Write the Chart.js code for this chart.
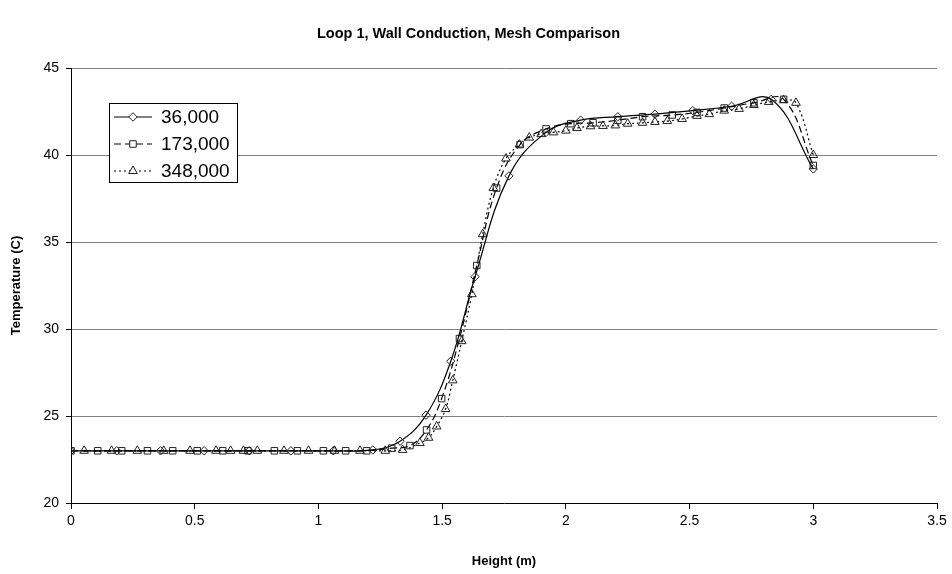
<!DOCTYPE html>
<html>
<head>
<meta charset="utf-8">
<script src="https://cdn.jsdelivr.net/npm/chart.js@4/dist/chart.umd.min.js"></script>
<style>
  html, body { margin: 0; padding: 0; background: #ffffff; }
  #c { display: block; }
</style>
</head>
<body>
<canvas id="c" width="952" height="574"></canvas>
<script>
// Mesh sizes (number of cells) shown in the legend
const meshLabels = ['36,000', '173,000', '348,000'];

// 36,000-cell mesh: height (m) and wall temperature (C)
const height36k = [0, 0.185, 0.362, 0.538, 0.72, 0.889, 1.06, 1.22, 1.33, 1.435, 1.535, 1.633, 1.77, 1.92, 2.06, 2.21, 2.36, 2.513, 2.67, 2.83, 3.0];
const temp36k   = [23, 23, 23, 23, 23, 23, 23, 23.05, 23.55, 25.05, 28.15, 33.0, 38.8, 41.3, 42.0, 42.2, 42.35, 42.55, 42.8, 43.2, 39.2];

// 173,000-cell mesh
const height173k = [0, 0.108, 0.205, 0.309, 0.411, 0.51, 0.613, 0.715, 0.822, 0.915, 1.02, 1.11, 1.195, 1.296, 1.37, 1.437, 1.498, 1.57, 1.64, 1.72, 1.815, 1.92, 2.02, 2.11, 2.21, 2.31, 2.43, 2.53, 2.64, 2.76, 2.88, 3.0];
const temp173k   = [23, 23, 23, 23, 23, 23, 23, 23, 23, 23, 23, 23, 23, 23.15, 23.3, 24.2, 26.0, 29.45, 33.65, 38.1, 40.6, 41.5, 41.8, 41.85, 42.0, 42.2, 42.3, 42.45, 42.7, 43.0, 43.2, 39.4];

// 348,000-cell mesh
const height348k = [0.053, 0.164, 0.268, 0.375, 0.481, 0.586, 0.645, 0.697, 0.753, 0.861, 0.96, 1.065, 1.168, 1.27, 1.34, 1.41, 1.445, 1.478, 1.514, 1.543, 1.579, 1.62, 1.664, 1.707, 1.758, 1.812, 1.852, 1.9, 1.95, 2.0, 2.045, 2.1, 2.15, 2.2, 2.25, 2.31, 2.36, 2.41, 2.47, 2.53, 2.58, 2.64, 2.7, 2.76, 2.82, 2.88, 2.93, 3.0];
const temp348k   = [23, 23, 23, 23, 23, 23, 23, 23, 23, 23, 23, 23, 23, 23, 23.05, 23.45, 23.75, 24.4, 25.4, 27.05, 29.3, 32.0, 35.45, 38.1, 39.8, 40.6, 41.0, 41.2, 41.3, 41.4, 41.55, 41.65, 41.67, 41.7, 41.8, 41.85, 41.9, 41.95, 42.07, 42.25, 42.35, 42.55, 42.65, 42.87, 43.05, 43.15, 43.0, 40.0];

// Axis tick values
const heightTicks = [0, 0.5, 1, 1.5, 2, 2.5, 3, 3.5];
const tempTicks = [20, 25, 30, 35, 40, 45];

const FONT = 'Arial, "Liberation Sans", Helvetica, sans-serif';
Chart.defaults.font.family = FONT;
Chart.defaults.color = '#000000';

function pairs(xs, ys) {
  return xs.map((x, i) => ({ x: x, y: ys[i] }));
}

const seriesStyle = [
  { dash: [], marker: 'rectRot', radius: 4.2 },
  { dash: [7, 4], marker: 'rect', radius: 4.6 },
  { dash: [2, 3], marker: 'triangle', radius: 5 }
];

const seriesData = [
  pairs(height36k, temp36k),
  pairs(height173k, temp173k),
  pairs(height348k, temp348k)
];

const datasets = seriesData.map((d, i) => ({
  label: meshLabels[i],
  data: d,
  borderColor: '#000000',
  borderWidth: 1.2,
  borderDash: seriesStyle[i].dash,
  tension: 0.4,
  fill: false,
  pointStyle: seriesStyle[i].marker,
  pointRadius: seriesStyle[i].radius,
  pointBorderColor: '#222222',
  pointBackgroundColor: 'rgba(255,255,255,0)',
  pointBorderWidth: 1
}));

// Boxed legend drawn inside the plot area, upper left
const boxLegend = {
  id: 'boxLegend',
  afterDatasetsDraw(chart) {
    const ctx = chart.ctx;
    const bx = 109, by = 103, bw = 128, bh = 79;
    ctx.save();
    ctx.fillStyle = '#ffffff';
    ctx.fillRect(bx, by, bw, bh);
    ctx.strokeStyle = '#000000';
    ctx.lineWidth = 1;
    ctx.setLineDash([]);
    ctx.strokeRect(bx + 0.5, by + 0.5, bw, bh);
    const rowY = [117, 144, 171];
    chart.data.datasets.forEach((ds, i) => {
      const y = rowY[i];
      ctx.strokeStyle = '#000000';
      ctx.lineWidth = 1.2;
      ctx.setLineDash(ds.borderDash);
      ctx.beginPath();
      ctx.moveTo(114, y);
      ctx.lineTo(152, y);
      ctx.stroke();
      ctx.setLineDash([]);
      // hollow marker on a white patch so the line does not cross it
      ctx.fillStyle = '#ffffff';
      ctx.strokeStyle = '#222222';
      ctx.lineWidth = 1;
      Chart.helpers.drawPoint(ctx, {
        pointStyle: ds.pointStyle,
        radius: ds.pointRadius,
        borderWidth: 1,
        rotation: 0
      }, 133, y);
      ctx.fillStyle = '#000000';
      ctx.font = '19px ' + FONT;
      ctx.textAlign = 'left';
      ctx.textBaseline = 'middle';
      ctx.fillText(ds.label, 161, y + 1);
    });
    ctx.restore();
  }
};

new Chart(document.getElementById('c'), {
  type: 'line',
  data: { datasets: datasets },
  options: {
    responsive: false,
    animation: false,
    devicePixelRatio: 1,
    layout: { padding: { left: 0, right: 15, top: 0, bottom: 0 } },
    plugins: {
      legend: { display: false },
      tooltip: { enabled: false },
      title: {
        display: true,
        text: 'Loop 1, Wall Conduction, Mesh Comparison',
        font: { size: 14.5, weight: 'bold', family: FONT },
        color: '#000000',
        padding: { top: 25, bottom: 25.6 }
      }
    },
    scales: {
      x: {
        type: 'linear',
        min: heightTicks[0],
        max: heightTicks[heightTicks.length - 1],
        afterBuildTicks: s => { s.ticks = heightTicks.map(v => ({ value: v })); },
        afterFit: s => { s.height = 71; },
        ticks: { font: { size: 14 }, color: '#000000', padding: 4, maxRotation: 0, callback: v => String(v) },
        grid: { drawOnChartArea: false, drawTicks: true, tickLength: 6, tickColor: '#000000' },
        border: { color: '#000000', width: 1 },
        title: {
          display: true,
          text: 'Height (m)',
          font: { size: 13, weight: 'bold' },
          color: '#000000',
          padding: { top: 0, bottom: 5 }
        }
      },
      y: {
        type: 'linear',
        min: tempTicks[0],
        max: tempTicks[tempTicks.length - 1],
        afterBuildTicks: s => { s.ticks = tempTicks.map(v => ({ value: v })); },
        afterFit: s => { s.width = 71; },
        ticks: { font: { size: 14 }, color: '#000000', padding: 7, callback: v => String(v) },
        grid: {
          color: c => (c.tick && c.tick.value === tempTicks[0]) ? 'rgba(0,0,0,0)' : '#808080',
          lineWidth: 1,
          drawTicks: true,
          tickLength: 5,
          tickColor: '#000000'
        },
        border: { color: '#000000', width: 1 },
        title: {
          display: true,
          text: 'Temperature (C)',
          font: { size: 13, weight: 'bold' },
          color: '#000000',
          padding: { top: 9, bottom: 0 }
        }
      }
    }
  },
  plugins: [boxLegend]
});
</script>
</body>
</html>
